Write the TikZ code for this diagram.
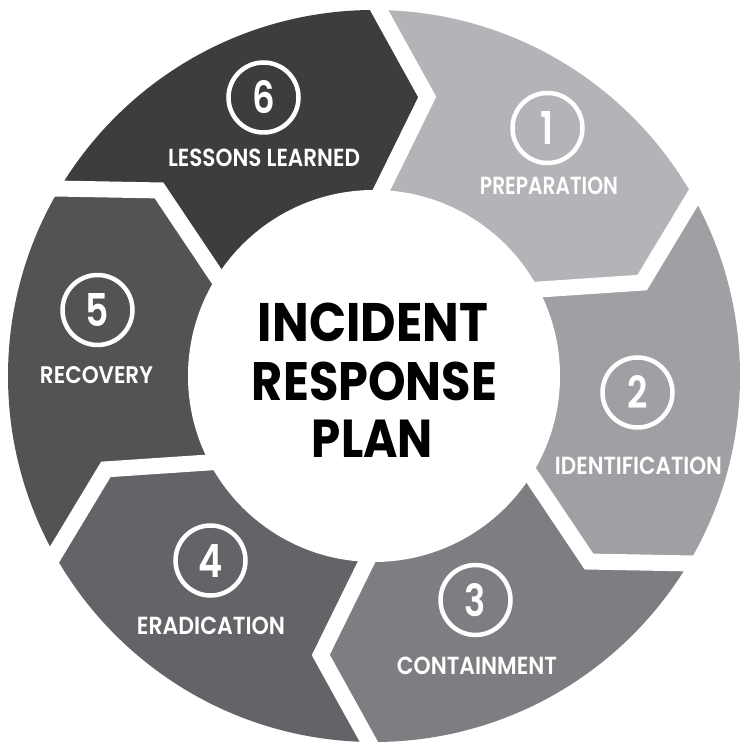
\documentclass[tikz,border=0pt]{standalone}
\usepackage{fontspec}
\setmainfont{Poppins}
\newfontfamily\semifont{Poppins SemiBold}
\usetikzlibrary{calc}
\definecolor{segA}{RGB}{178,180,183}
\definecolor{segB}{RGB}{160,160,164}
\definecolor{segC}{RGB}{126,126,130}
\definecolor{segD}{RGB}{100,100,104}
\definecolor{segE}{RGB}{83,83,85}
\definecolor{segF}{RGB}{61,61,63}
\newcommand{\fitlabel}[3]{\resizebox{#1pt}{#2pt}{\semifont #3}}
\newcommand{\fittitle}[3]{\resizebox{#1pt}{#2pt}{\bfseries #3}}
\newcommand{\stepdigit}[1]{\scalebox{0.8}[1]{\resizebox{!}{33pt}{\semifont #1}}}
\begin{document}
\begin{tikzpicture}[x=1pt,y=1pt,
  gap/.style={white, line width=16pt, line join=miter, miter limit=20},
  numring/.style={circle, draw=white, line width=4.5pt, minimum size=70pt, inner sep=0pt, text=white},
  lbl/.style={text=white, inner sep=0pt},
  titletext/.style={text=black, inner sep=0pt}]
\useasboundingbox (0,0) rectangle (750,750);
\coordinate (C) at (374,374);
\foreach \k in {0,...,5}{
  \pgfmathsetmacro{\ph}{79.2-60*\k}
  \coordinate (T\k) at ($(C)+(\ph:284)$);
  \coordinate (O\k) at ($(C)+(\ph+10:366)$);
  \coordinate (I\k) at ($(C)+(\ph+8.5:186)$);
  \coordinate (OE\k) at ($(T\k)!1.6!(O\k)$);
  \coordinate (IE\k) at ($(T\k)!1.6!(I\k)$);
  \coordinate (F\k) at ($(C)+(\ph-16:520)$);
}
\begin{scope}
  \clip (C) circle (366);
  \fill[segA] (OE0) -- (T0) -- (IE0) -- (C) -- (IE1) -- (T1) -- (OE1) -- (F0) -- cycle;
  \fill[segB] (OE1) -- (T1) -- (IE1) -- (C) -- (IE2) -- (T2) -- (OE2) -- (F1) -- cycle;
  \fill[segC] (OE2) -- (T2) -- (IE2) -- (C) -- (IE3) -- (T3) -- (OE3) -- (F2) -- cycle;
  \fill[segD] (OE3) -- (T3) -- (IE3) -- (C) -- (IE4) -- (T4) -- (OE4) -- (F3) -- cycle;
  \fill[segE] (OE4) -- (T4) -- (IE4) -- (C) -- (IE5) -- (T5) -- (OE5) -- (F4) -- cycle;
  \fill[segF] (OE5) -- (T5) -- (IE5) -- (C) -- (IE0) -- (T0) -- (OE0) -- (F5) -- cycle;
\end{scope}
\foreach \k in {0,...,5}{
  \draw[gap] (OE\k) -- (T\k) -- (IE\k);
}
\fill[white] (C) circle (186);
% numbers
\node[numring] (n1) at (547.5,622) {\stepdigit{1}};
\node[numring] (n2) at (637.5,357.5) {\stepdigit{2}};
\node[numring] (n3) at (475.5,150) {\stepdigit{3}};
\node[numring] (n4) at (210.5,189.5) {\stepdigit{4}};
\node[numring] (n5) at (97.5,440) {\stepdigit{5}};
\node[numring] (n6) at (263.5,652.5) {\stepdigit{6}};
% labels
\node[lbl] (l1) at (549,564) {\fitlabel{138}{17.5}{PREPARATION}};
\node[lbl] (l2) at (638.5,284) {\fitlabel{167}{17.5}{IDENTIFICATION}};
\node[lbl] (l3) at (477,84) {\fitlabel{160}{17.5}{CONTAINMENT}};
\node[lbl] (l4) at (211,124) {\fitlabel{148}{17.5}{ERADICATION}};
\node[lbl] (l5) at (96.5,374.5) {\fitlabel{113}{17}{RECOVERY}};
\node[lbl] (l6) at (264,592.5) {\fitlabel{192}{17.5}{LESSONS LEARNED}};
% title
\node[titletext] (t1) at (373,427.5) {\fittitle{230}{38.5}{INCIDENT}};
\node[titletext] (t2) at (374.5,369) {\fittitle{245}{38.5}{RESPONSE}};
\node[titletext] (t3) at (372.5,311.5) {\fittitle{121}{37.5}{PLAN}};
\end{tikzpicture}
\end{document}
